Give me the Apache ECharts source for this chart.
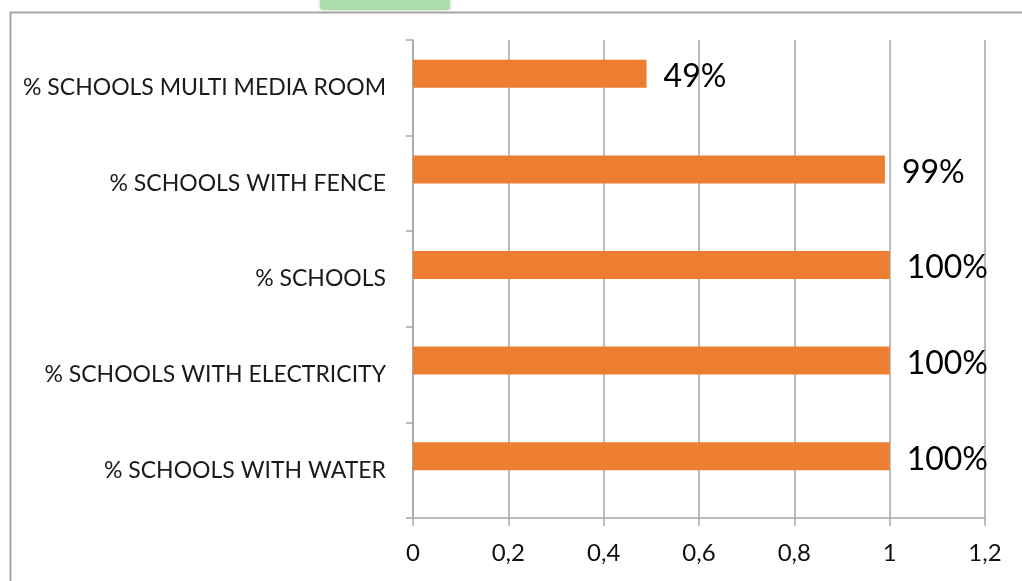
<!DOCTYPE html>
<html>
<head>
<meta charset="utf-8">
<script src="https://cdn.jsdelivr.net/npm/echarts@6/dist/echarts.min.js"></script>
<style>html,body{margin:0;padding:0;background:#fff}#c{width:1022px;height:581px}</style>
</head>
<body>
<div id="c"></div>
<script>
var categories = ['% SCHOOLS WITH WATER', '% SCHOOLS WITH ELECTRICITY', '% SCHOOLS', '% SCHOOLS WITH FENCE', '% SCHOOLS MULTI MEDIA ROOM'];
var values = [1, 1, 1, 0.99, 0.49];
var emptySeries = [null, null, null, null, null];
var xTicks = { min: 0, max: 1.2, interval: 0.2 };

var chart = echarts.init(document.getElementById('c'), null, { renderer: 'canvas' });
var font = 'Lato, "Open Sans", sans-serif';
chart.setOption({
  animation: false,
  backgroundColor: '#fff',
  graphic: [
    { type: 'rect', left: 320, top: -10, shape: { width: 130, height: 20, r: 3 }, style: { fill: '#acdcae', shadowBlur: 4, shadowColor: '#b8e2ba' }, z: 0 },
    { type: 'rect', left: 8, top: 10, shape: { width: 1200, height: 700 }, style: { fill: 'none', stroke: '#a6a6a6', lineWidth: 2 }, z: 1 }
  ],
  grid: { left: 413, right: 37, top: 40, bottom: 63, containLabel: false },
  xAxis: {
    type: 'value', min: xTicks.min, max: xTicks.max, interval: xTicks.interval,
    axisLine: { show: true, lineStyle: { color: '#a6a6a6', width: 1.5 } },
    axisTick: { show: true, length: 8, lineStyle: { color: '#a6a6a6', width: 1.5 } },
    splitLine: { show: true, lineStyle: { color: '#a6a6a6', width: 1.5 } },
    axisLabel: { margin: 23, fontSize: 24, fontFamily: font, color: '#111',
      formatter: function (v) { return String(Math.round(v * 10) / 10).replace('.', ','); } }
  },
  yAxis: {
    type: 'category', data: categories,
    axisLine: { show: true, lineStyle: { color: '#a6a6a6', width: 1.5 } },
    axisTick: { show: true, length: 7, lineStyle: { color: '#a6a6a6', width: 1.5 } },
    splitLine: { show: false },
    axisLabel: { margin: 27, fontSize: 23, fontFamily: font, color: '#1a1a1a' }
  },
  series: [
    {
      type: 'bar', data: values, barWidth: 28, barGap: '0%',
      itemStyle: { color: '#ED7D31' },
      label: { show: true, position: 'right', distance: 17, offset: [0, 3], fontSize: 32, fontFamily: font, color: '#000',
        formatter: function (p) { return Math.round(p.value * 100) + '%'; } }
    },
    { type: 'bar', data: emptySeries, barWidth: 28, barGap: '0%', itemStyle: { color: 'transparent' } }
  ]
});
</script>
</body>
</html>
